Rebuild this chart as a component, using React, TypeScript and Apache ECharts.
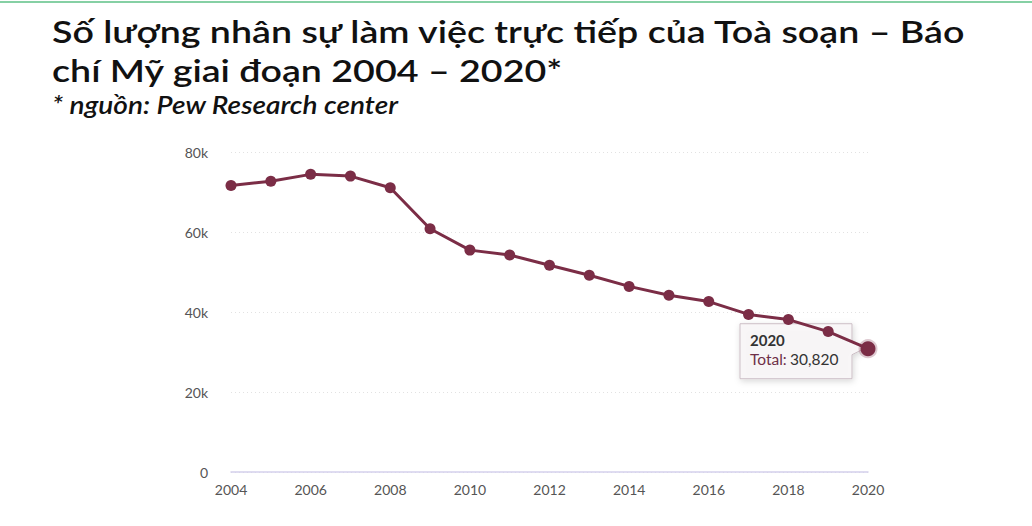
import React, { useEffect, useRef } from "react";
import * as echarts from "echarts";

const titleLines = [
  "Số lượng nhân sự làm việc trực tiếp của Toà soạn – Báo",
  "chí Mỹ giai đoạn 2004 – 2020*",
];
const subtitle = "* nguồn: Pew Research center";
const years = [2004, 2005, 2006, 2007, 2008, 2009, 2010, 2011, 2012, 2013, 2014, 2015, 2016, 2017, 2018, 2019, 2020];
const totals = [71640, 72700, 74410, 73970, 71070, 60800, 55470, 54250, 51700, 49200, 46400, 44200, 42600, 39400, 38100, 35100, 30820];
const seriesName = "Total";
const yTicks = { min: 0, max: 80000, interval: 20000 };
const xTicks = { min: 2004, max: 2020, interval: 2 };

const LINE = "#7b2d46";
const FONT = "Lato, 'Noto Sans', sans-serif";

export default function App() {
  const ref = useRef<HTMLDivElement>(null);
  useEffect(() => {
    if (!ref.current) return;
    const chart = echarts.init(ref.current, undefined, { renderer: "svg" });
    const data = years.map((y, i) => {
      const last = i === years.length - 1;
      return last
        ? {
            value: [y, totals[i]],
            symbolSize: 15,
            itemStyle: { color: LINE, borderColor: "rgba(123,45,70,0.25)", borderWidth: 4 },
          }
        : { value: [y, totals[i]] };
    });
    chart.setOption({
      animation: false,
      backgroundColor: "#ffffff",
      grid: { left: 231, right: 164, top: 152, bottom: 54, containLabel: false },
      xAxis: {
        type: "value",
        min: xTicks.min,
        max: xTicks.max,
        interval: xTicks.interval,
        axisLine: { show: true, lineStyle: { color: "#d4d0ec", width: 1.5 } },
        axisTick: { show: false },
        splitLine: { show: false },
        axisLabel: {
          color: "#555",
          fontFamily: FONT,
          fontSize: 14,
          margin: 10,
          formatter: (v: number) => String(v),
        },
      },
      yAxis: {
        type: "value",
        min: yTicks.min,
        max: yTicks.max,
        interval: yTicks.interval,
        axisLine: { show: false },
        axisTick: { show: false },
        splitLine: { show: true, lineStyle: { color: "#e2e2e2", type: [1, 3], width: 1 } },
        axisLabel: {
          color: "#555",
          fontFamily: FONT,
          fontSize: 14,
          margin: 23,
          formatter: (v: number) => (v === 0 ? "0" : v / 1000 + "k"),
        },
      },
      series: [
        {
          name: seriesName,
          type: "line",
          data,
          symbol: "circle",
          symbolSize: 11,
          lineStyle: { color: LINE, width: 3 },
          itemStyle: { color: LINE },
          z: 2,
        },
      ],
    });

    const lastIdx = years.length - 1;
    const pt = chart.convertToPixel({ gridIndex: 0 }, [years[lastIdx], totals[lastIdx]]) as number[];
    const w = 112;
    const h = 55;
    const bx = pt[0] - 16 - w;
    const by = pt[1] - 25;
    const py = pt[1] - by;
    const titleStyle = (text: string, size: number, italic: boolean) => ({
      text,
      fontFamily: FONT,
      fontSize: size,
      fontWeight: 600,
      fontStyle: italic ? "italic" : "normal",
      fill: "#111",
      verticalAlign: "middle",
      align: "left",
    });
    chart.setOption({
      graphic: [
        {
          type: "text",
          x: 52,
          y: 31,
          scaleX: 1.213,
          z: 100,
          style: titleStyle(titleLines[0], 31, false),
        },
        {
          type: "text",
          x: 52,
          y: 70,
          scaleX: 1.213,
          z: 100,
          style: titleStyle(titleLines[1], 31, false),
        },
        {
          type: "text",
          x: 52,
          y: 105,
          scaleX: 1.17,
          z: 100,
          style: titleStyle(subtitle, 24, true),
        },
        {
          type: "group",
          x: bx,
          y: by,
          z: 100,
          children: [
            {
              type: "polygon",
              shape: {
                points: [
                  [0, 0],
                  [w, 0],
                  [w, py - 8],
                  [w + 12, py],
                  [w, py + 6],
                  [w, h],
                  [0, h],
                ],
              },
              style: {
                fill: "rgba(249,247,248,0.86)",
                stroke: "rgba(200,185,192,0.9)",
                lineWidth: 1,
                shadowBlur: 6,
                shadowOffsetX: 1,
                shadowOffsetY: 2,
                shadowColor: "rgba(0,0,0,0.18)",
              },
            },
            {
              type: "text",
              x: 10,
              y: 9,
              style: {
                text: String(years[lastIdx]),
                font: `bold 15px ${FONT}`,
                fill: "#333",
              },
            },
            {
              type: "text",
              x: 10,
              y: 27,
              style: {
                text: `{a|${seriesName}:} {b|${totals[lastIdx].toLocaleString("en-US")}}`,
                rich: {
                  a: { fontFamily: FONT, fontSize: 15.5, fill: "#6e2f47", color: "#6e2f47" },
                  b: { fontFamily: FONT, fontSize: 15.5, fill: "#333", color: "#333" },
                },
              },
            },
          ],
        },
        {
          type: "line",
          z: 100,
          shape: { x1: 0, y1: 2, x2: 1032, y2: 2 },
          style: { stroke: "#86d0a4", lineWidth: 2 },
        },
      ],
    });
    return () => chart.dispose();
  }, []);
  return (
    <div
      ref={ref}
      style={{ position: "fixed", left: 0, top: 0, width: 1032, height: 526, background: "#fff" }}
    />
  );
}
